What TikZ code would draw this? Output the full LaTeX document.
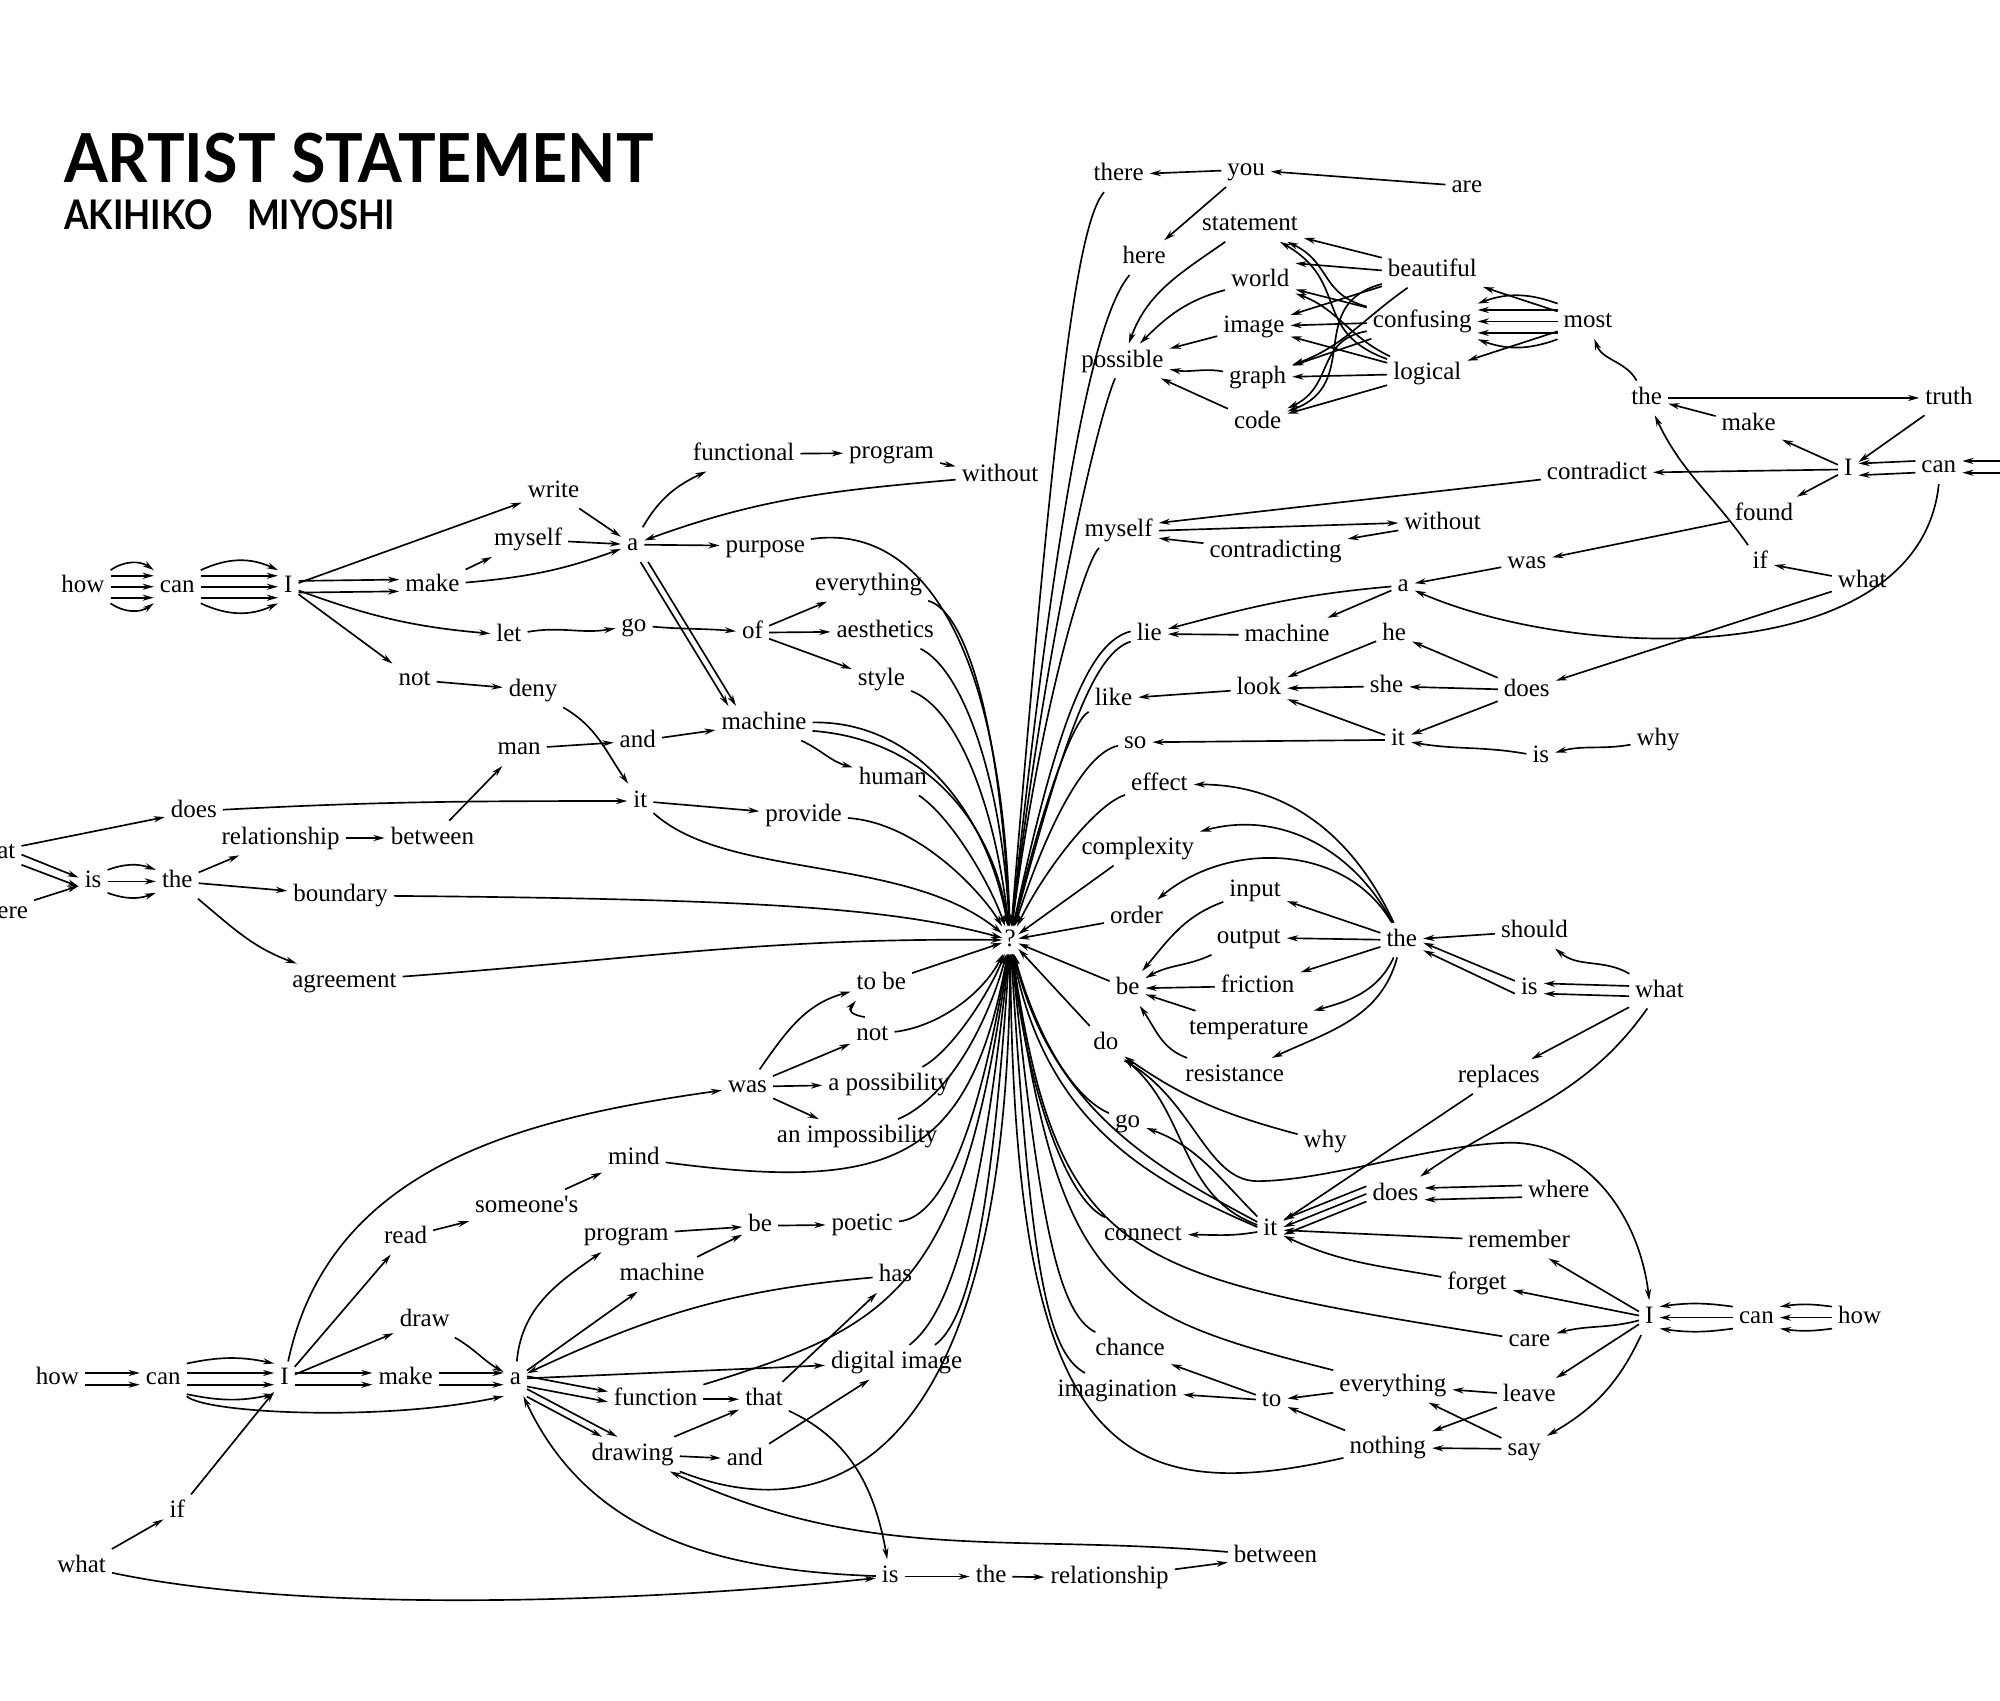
\documentclass[tikz,border=0pt]{standalone}
\usepackage{fontspec}
\setmainfont{Liberation Serif}
\newfontfamily\rawserif{Liberation Serif}[Ligatures=ResetAll]
\newfontfamily\titlefont{Lato}
\usetikzlibrary{arrows.meta}
\begin{document}
\begin{tikzpicture}[x=0.5pt,y=-0.5pt,
 w/.style={font=\fontsize{9.8}{11}\selectfont,inner sep=2.2pt,text height=6.8pt,text depth=2pt},
 e/.style={-{Stealth[length=4.4pt,width=2.4pt]},line width=0.65pt},
 ttl/.style={anchor=base west,inner sep=0pt}]
\useasboundingbox (0,0) rectangle (1568,1333);
\fill[white] (0,0) rectangle (1568,1333);
% title
\node[ttl,font=\titlefont\bfseries\fontsize{26.5}{30}\selectfont] (title) at (50,143) {\scalebox{0.93}[1]{ARTIST STATEMENT}};
\node[ttl,font=\titlefont\bfseries\fontsize{16}{19}\selectfont] (subtitle) at (50,180) {\scalebox{0.865}[1]{AKIHIKO}\hspace{13.5pt}\scalebox{0.85}[1]{MIYOSHI}};
% centre
\node[w,inner sep=0.8pt] (q) at (792,737) {?};
% ---------------- upper left nodes
\node[w] (ul_how) at (65,460) {how};
\node[w] (ul_can) at (139,460) {can};
\node[w] (ul_I) at (226,460) {I};
\node[w] (ul_write) at (434,385) {write};
\node[w] (ul_myself) at (414,423) {myself};
\node[w] (ul_make) at (339,459) {make};
\node[w] (ul_let) at (399,498) {let};
\node[w] (ul_not) at (325,533) {not};
\node[w] (ul_deny) at (418,541) {deny};
\node[w] (ul_a) at (496,427) {a};
\node[w] (ul_functional) at (583,356) {functional};
\node[w] (ul_program) at (699,355) {program};
\node[w] (ul_without) at (784,373) {without};
\node[w] (ul_purpose) at (600,428) {purpose};
\node[w] (ul_go) at (497,490) {go};
\node[w] (ul_of) at (590,496) {of};
\node[w] (ul_everything) at (681,458) {everything};
\node[w] (ul_aesthetics) at (694,495) {aesthetics};
\node[w] (ul_style) at (691,533) {style};
\node[w] (ul_machine) at (599,567) {machine};
\node[w] (ul_man) at (407,587) {man};
\node[w] (ul_and) at (500,581) {and};
\node[w] (ul_human) at (700,610) {human};
\node[w] (ul_it) at (502,628) {it};
\node[w] (ul_provide) at (630,639) {provide};
\node[w] (ul_does) at (152,636) {does};
\node[w] (ul_relationship) at (220,657) {relationship};
\node[w] (ul_between) at (339,657) {between};
\node[w] (ul_is) at (73,691) {is};
\node[w] (ul_the) at (139,691) {the};
\node[w] (ul_boundary) at (267,702) {boundary};
\node[w] (ul_agreement) at (270,769) {agreement};
\node[w] (ul_what) at (-7,668) {what};
\node[w] (ul_where) at (-2,715) {where};
% ---------------- top right nodes
\node[w] (tr_there) at (877,137) {there};
\node[w] (tr_you) at (977,133) {you};
\node[w] (tr_are) at (1150,146) {are};
\node[w] (tr_here) at (897,202) {here};
\node[w] (tr_statement) at (980,176) {statement};
\node[w] (tr_world) at (988,220) {world};
\node[w] (tr_image) at (983,256) {image};
\node[w] (tr_possible) at (880,283) {possible};
\node[w] (tr_graph) at (986,296) {graph};
\node[w] (tr_code) at (986,331) {code};
\node[w] (tr_beautiful) at (1123,212) {beautiful};
\node[w] (tr_confusing) at (1115,252) {confusing};
\node[w] (tr_logical) at (1119,293) {logical};
\node[w] (tr_most) at (1245,252) {most};
\node[w] (tr_the) at (1291,312) {the};
\node[w] (tr_truth) at (1528,312) {truth};
\node[w] (tr_make) at (1371,333) {make};
\node[w] (tr_contradict) at (1252,371) {contradict};
\node[w] (tr_I) at (1449,368) {I};
\node[w] (tr_can) at (1520,366) {can};
\node[w] (tr_found) at (1383,403) {found};
\node[w] (tr_myself) at (877,416) {myself};
\node[w] (tr_without) at (1131,410) {without};
\node[w] (tr_contradicting) at (1000,432) {contradicting};
\node[w] (tr_was) at (1197,441) {was};
\node[w] (tr_if) at (1380,441) {if};
\node[w] (tr_what) at (1460,456) {what};
\node[w] (tr_a) at (1100,459) {a};
\coordinate (tr_offr) at (1580,366);
% ---------------- middle right nodes
\node[w] (mr_lie) at (901,497) {lie};
\node[w] (mr_machine) at (1009,498) {machine};
\node[w] (mr_he) at (1093,497) {he};
\node[w] (mr_she) at (1087,538) {she};
\node[w] (mr_look) at (987,540) {look};
\node[w] (mr_like) at (873,548) {like};
\node[w] (mr_does) at (1197,541) {does};
\node[w] (mr_it) at (1096,580) {it};
\node[w] (mr_so) at (890,582) {so};
\node[w] (mr_is) at (1208,593) {is};
\node[w] (mr_why) at (1300,580) {why};
\node[w] (mr_effect) at (909,615) {effect};
\node[w] (mr_complexity) at (892,665) {complexity};
\node[w] (mr_order) at (891,719) {order};
\node[w] (mr_input) at (984,698) {input};
\node[w] (mr_output) at (979,735) {output};
\node[w] (mr_the) at (1099,737) {the};
\node[w] (mr_friction) at (986,773) {friction};
\node[w] (mr_be) at (884,775) {be};
\node[w] (mr_temperature) at (979,806) {temperature};
\node[w] (mr_resistance) at (968,843) {resistance};
\node[w] (mr_do) at (867,818) {do};
\node[w] (mr_should) at (1203,730) {should};
\node[w] (mr_is2) at (1199,775) {is};
\node[w] (mr_what) at (1301,777) {what};
\node[w] (mr_replaces) at (1175,844) {replaces};
\node[w] (mr_why2) at (1039,895) {why};
\node[w] (mr_go) at (884,879) {go};
% ---------------- lower right nodes
\node[w] (lr_it) at (996,964) {it};
\node[w] (lr_does) at (1094,936) {does};
\node[w] (lr_where) at (1222,934) {where};
\node[w] (lr_remember) at (1191,973) {remember};
\node[w] (lr_forget) at (1158,1006) {forget};
\node[w] (lr_connect) at (896,968) {connect};
\node[w] (lr_I) at (1293,1033) {I};
\node[w] (lr_can) at (1377,1033) {can};
\node[w] (lr_how) at (1458,1033) {how};
\node[w] (lr_care) at (1199,1051) {care};
\node[w] (lr_everything) at (1092,1086) {everything};
\node[w] (lr_leave) at (1199,1094) {leave};
\node[w] (lr_to) at (997,1098) {to};
\node[w] (lr_chance) at (886,1058) {chance};
\node[w] (lr_imagination) at (876,1090) {imagination};
\node[w] (lr_nothing) at (1088,1135) {nothing};
\node[w] (lr_say) at (1195,1136) {say};
% ---------------- lower left nodes
\node[w] (ll_how) at (45,1081) {how};
\node[w] (ll_can) at (128,1081) {can};
\node[w] (ll_I) at (223,1081) {I};
\node[w] (ll_make) at (318,1081) {make};
\node[w] (ll_a) at (404,1081) {a};
\node[w] (ll_read) at (318,970) {read};
\node[w] (ll_someones) at (413,946) {{\rawserif someone's}};
\node[w] (ll_mind) at (497,908) {mind};
\node[w] (ll_draw) at (333,1035) {draw};
\node[w] (ll_was) at (586,852) {was};
\node[w] (ll_tobe) at (691,771) {to be};
\node[w] (ll_not) at (684,811) {not};
\node[w] (ll_apossibility) at (697,850) {a possibility};
\node[w] (ll_animpossibility) at (672,891) {an impossibility};
\node[w] (ll_program) at (491,968) {program};
\node[w] (ll_be) at (596,961) {be};
\node[w] (ll_poetic) at (676,960) {poetic};
\node[w] (ll_machine) at (519,999) {machine};
\node[w] (ll_has) at (702,1000) {has};
\node[w] (ll_digitalimage) at (703,1068) {digital image};
\node[w] (ll_function) at (514,1097) {function};
\node[w] (ll_that) at (599,1097) {that};
\node[w] (ll_drawing) at (496,1140) {drawing};
\node[w] (ll_and) at (584,1144) {and};
\node[w] (ll_is) at (698,1236) {is};
\node[w] (ll_the) at (777,1236) {the};
\node[w] (ll_relationship) at (870,1237) {relationship};
\node[w] (ll_between) at (1000,1220) {between};
\node[w] (ll_what) at (64,1228) {what};
\node[w] (ll_if) at (139,1185) {if};

% ================= UL edges
\draw[e] ([yshift=4.3pt]ul_how.east) -- ([yshift=4.3pt]ul_can.west);
\draw[e] (ul_how.east) -- (ul_can.west);
\draw[e] ([yshift=-4.3pt]ul_how.east) -- ([yshift=-4.3pt]ul_can.west);
\draw[e] ([yshift=6.5pt]ul_how.east) to[bend left=35] ([yshift=6.5pt]ul_can.west);
\draw[e] ([yshift=-6.5pt]ul_how.east) to[bend right=35] ([yshift=-6.5pt]ul_can.west);
\draw[e] ([yshift=4.3pt]ul_can.east) -- ([yshift=4.3pt]ul_I.west);
\draw[e] (ul_can.east) -- (ul_I.west);
\draw[e] ([yshift=-4.3pt]ul_can.east) -- ([yshift=-4.3pt]ul_I.west);
\draw[e] ([yshift=6.5pt]ul_can.east) to[bend left=25] ([yshift=6.5pt]ul_I.west);
\draw[e] ([yshift=-6.5pt]ul_can.east) to[bend right=25] ([yshift=-6.5pt]ul_I.west);
\draw[e] (ul_I) -- (ul_write);
\draw[e] ([yshift=2.3pt]ul_I.east) -- ([yshift=2.3pt]ul_make.west);
\draw[e] ([yshift=-2.3pt]ul_I.east) -- ([yshift=-2.3pt]ul_make.west);
\draw[e] (ul_I) to[out=-20,in=175] (ul_let);
\draw[e] (ul_I) -- (ul_not);
\draw[e] (ul_make) -- (ul_myself);
\draw[e] (ul_myself) -- (ul_a);
\draw[e] (ul_write) -- (ul_a);
\draw[e] (ul_make) to[out=5,in=200] (ul_a);
\draw[e] (ul_a) to[out=60,in=205] (ul_functional);
\draw[e] (ul_functional) -- (ul_program);
\draw[e] (ul_program) -- (ul_without);
\draw[e] (ul_without) to[out=185,in=20] (ul_a);
\draw[e] (ul_a) -- (ul_purpose);
\draw[e] ([xshift=-1.5pt]ul_a.south east) -- ([xshift=-14pt]ul_machine.north);
\draw[e] ([xshift=1.5pt]ul_a.south east) -- ([xshift=-11pt]ul_machine.north);
\draw[e] (ul_let) to[out=10,in=190] (ul_go);
\draw[e] (ul_go) to[out=-5,in=175] (ul_of);
\draw[e] (ul_of) -- (ul_everything);
\draw[e] (ul_of) -- (ul_aesthetics);
\draw[e] (ul_of) -- (ul_style);
\draw[e] (ul_not) -- (ul_deny);
\draw[e] (ul_deny) to[out=-30,in=125] (ul_it);
\draw[e] (ul_man) -- (ul_and);
\draw[e] (ul_and) -- (ul_machine);
\draw[e] (ul_machine) to[out=-25,in=165] (ul_human);
\draw[e] (ul_it) -- (ul_provide);
\draw[e] (ul_does) to[out=3,in=180] (ul_it);
\draw[e] (ul_between) -- (ul_man);
\draw[e] (ul_relationship) -- (ul_between);
\draw[e] (ul_the) -- (ul_relationship);
\draw[e] (ul_the) -- (ul_boundary);
\draw[e] (ul_the) to[out=-40,in=160] (ul_agreement);
\draw[e] (ul_is.east) -- (ul_the.west);
\draw[e] ([yshift=4.5pt]ul_is.east) to[bend left=20] ([yshift=4.5pt]ul_the.west);
\draw[e] ([yshift=-4.5pt]ul_is.east) to[bend right=20] ([yshift=-4.5pt]ul_the.west);
\draw[e] (ul_what) -- (ul_does);
\draw[e] ([yshift=-1pt]ul_what.east) -- ([yshift=1.5pt]ul_is.west);
\draw[e] ([yshift=-5pt]ul_what.east) -- ([yshift=-2pt]ul_is.west);
\draw[e] (ul_where) -- (ul_is);
\draw[e] (ul_purpose) .. controls (720,410) and (785,500) .. (q);
\draw[e] (ul_everything) .. controls (760,480) and (785,580) .. (q);
\draw[e] (ul_aesthetics) .. controls (755,525) and (785,610) .. (q);
\draw[e] (ul_style) .. controls (750,555) and (780,630) .. (q);
\draw[e] (ul_machine) .. controls (720,565) and (775,640) .. (q);
\draw[e] ([yshift=-3pt]ul_machine.east) .. controls (730,580) and (780,650) .. (q);
\draw[e] (ul_human) .. controls (745,640) and (775,690) .. (q);
\draw[e] (ul_provide) .. controls (720,645) and (770,700) .. (q);
\draw[e] (ul_it) .. controls (570,690) and (710,670) .. (q);
\draw[e] (ul_boundary) .. controls (600,705) and (700,712) .. (q);
\draw[e] (ul_agreement) .. controls (500,752) and (600,735) .. (q);

% ================= TR edges
\draw[e] (tr_are) -- (tr_you);
\draw[e] (tr_you) -- (tr_there);
\draw[e] (tr_you) -- (tr_here);
\draw[e] (tr_there) .. controls (845,175) and (828,300) .. (q);
\draw[e] (tr_here) .. controls (865,240) and (835,330) .. (q);
\draw[e] (tr_possible) .. controls (860,330) and (820,500) .. (q);
\draw[e] (tr_myself) .. controls (850,440) and (815,560) .. (q);
\draw[e] (tr_statement) to[out=215,in=70] (tr_possible);
\draw[e] (tr_world) to[out=195,in=45] (tr_possible);
\draw[e] (tr_image) -- (tr_possible);
\draw[e] (tr_graph) to[out=170,in=-10] (tr_possible);
\draw[e] (tr_code) -- (tr_possible);
\draw[e] (tr_beautiful) -- (tr_statement);
\draw[e] (tr_beautiful.west) -- (tr_world.north east);
\draw[e] (tr_beautiful) -- (tr_image);
\draw[e] (tr_beautiful) to[out=215,in=20] (tr_graph);
\draw[e] (tr_beautiful) to[out=195,in=20,looseness=1.3] (tr_code);
\draw[e] (tr_confusing) to[out=165,in=-25,looseness=1.2] (tr_statement);
\draw[e] (tr_confusing) -- (tr_world);
\draw[e] (tr_confusing) -- (tr_image);
\draw[e] (tr_confusing) -- (tr_graph);
\draw[e] (tr_confusing) to[out=190,in=25,looseness=1.2] (tr_code);
\draw[e] (tr_logical) to[out=160,in=-30,looseness=1.3] (tr_statement);
\draw[e] (tr_logical) to[out=155,in=-20] (tr_world);
\draw[e] (tr_logical) -- (tr_image);
\draw[e] (tr_logical) -- (tr_graph);
\draw[e] (tr_logical) -- (tr_code);
\draw[e] (tr_most) -- (tr_beautiful);
\draw[e] (tr_most) -- (tr_logical);
\draw[e] ([yshift=4.5pt]tr_most.west) -- ([yshift=4.5pt]tr_confusing.east);
\draw[e] (tr_most.west) -- (tr_confusing.east);
\draw[e] ([yshift=-4.5pt]tr_most.west) -- ([yshift=-4.5pt]tr_confusing.east);
\draw[e] ([yshift=7pt]tr_most.west) to[bend right=20] ([yshift=7pt]tr_confusing.east);
\draw[e] ([yshift=-7pt]tr_most.west) to[bend left=20] ([yshift=-7pt]tr_confusing.east);
\draw[e] (tr_the) to[out=120,in=-70] (tr_most);
\draw[e] (tr_the) -- (tr_truth);
\draw[e] (tr_make) -- (tr_the);
\draw[e] (tr_I) -- (tr_make);
\draw[e] (tr_truth) -- (tr_I);
\draw[e] (tr_I) -- (tr_contradict);
\draw[e] (tr_I) -- (tr_found);
\draw[e] ([yshift=2.3pt]tr_can.west) -- ([yshift=2.3pt]tr_I.east);
\draw[e] ([yshift=-2.3pt]tr_can.west) -- ([yshift=-2.3pt]tr_I.east);
\draw[e] ([yshift=2.3pt]tr_offr) -- ([yshift=2.3pt]tr_can.east);
\draw[e] ([yshift=-2.3pt]tr_offr) -- ([yshift=-2.3pt]tr_can.east);
\draw[e] (tr_can.south) .. controls (1505,525) and (1240,520) .. (tr_a);
\draw[e] (tr_found) -- (tr_was);
\draw[e] (tr_was) -- (tr_a);
\draw[e] (tr_if) to[out=125,in=-65] (tr_the);
\draw[e] (tr_what) -- (tr_if);
\draw[e] (tr_what) -- (mr_does);
\draw[e] (tr_contradict) -- ([yshift=3pt]tr_myself.east);
\draw[e] (tr_myself.east) -- (tr_without.west);
\draw[e] (tr_without) -- (tr_contradicting);
\draw[e] (tr_contradicting) -- ([yshift=-3pt]tr_myself.east);

% ================= MR edges
\draw[e] (tr_a) to[out=185,in=15] (mr_lie);
\draw[e] (tr_a) -- (mr_machine);
\draw[e] (mr_machine) -- (mr_lie);
\draw[e] ([yshift=1pt]mr_lie.west) .. controls (855,503) and (830,560) .. (q);
\draw[e] ([yshift=-3pt]mr_lie.west) .. controls (858,512) and (835,575) .. (q);
\draw[e] (mr_does) -- (mr_he);
\draw[e] (mr_does) -- (mr_she);
\draw[e] (mr_does) -- (mr_it);
\draw[e] (mr_he) -- (mr_look);
\draw[e] (mr_she) -- (mr_look);
\draw[e] (mr_it) -- (mr_look);
\draw[e] (mr_look) -- (mr_like);
\draw[e] (mr_like) .. controls (840,565) and (815,640) .. (q);
\draw[e] (mr_it) -- (mr_so);
\draw[e] (mr_so) .. controls (850,590) and (820,650) .. (q);
\draw[e] (mr_is) to[out=170,in=-10] (mr_it);
\draw[e] (mr_why) to[out=190,in=15] (mr_is);
\draw[e] (mr_effect) .. controls (860,630) and (820,680) .. (q);
\draw[e] (mr_complexity) -- (q);
\draw[e] (mr_order) -- (q);
\draw[e] (mr_be) -- (q);
\draw[e] (mr_do) -- (q);
\draw[e] (mr_the) to[out=115,in=0] (mr_effect);
\draw[e] (mr_the) to[out=118,in=15] (mr_complexity);
\draw[e] (mr_the) to[out=120,in=40] (mr_order);
\draw[e] (mr_the) -- (mr_input);
\draw[e] (mr_the) -- (mr_output);
\draw[e] (mr_the) -- (mr_friction);
\draw[e] (mr_the) to[out=-115,in=15] (mr_temperature);
\draw[e] (mr_the) to[out=-105,in=25] (mr_resistance);
\draw[e] (mr_input) to[out=200,in=50] (mr_be);
\draw[e] (mr_output) to[out=205,in=30] (mr_be);
\draw[e] (mr_friction) -- (mr_be);
\draw[e] (mr_temperature) -- (mr_be);
\draw[e] (mr_resistance) to[out=160,in=-55] (mr_be);
\draw[e] (mr_should) -- (mr_the);
\draw[e] ([yshift=3pt]mr_is2.west) -- ([yshift=-1pt]mr_the.east);
\draw[e] ([yshift=-2pt]mr_is2.west) -- ([yshift=-4pt]mr_the.east);
\draw[e] (mr_what) to[out=150,in=-40] (mr_should);
\draw[e] ([yshift=2pt]mr_what.west) -- ([yshift=2pt]mr_is2.east);
\draw[e] ([yshift=-2pt]mr_what.west) -- ([yshift=-2pt]mr_is2.east);
\draw[e] (mr_what) -- (mr_replaces);
\draw[e] (mr_what) to[out=-125,in=35] (lr_does);
\draw[e] (mr_replaces) -- (lr_it);
\draw[e] (mr_why2) to[out=165,in=-35] (mr_do);
\draw[e] (lr_it) to[out=160,in=-40] (mr_do);
\draw[e] (mr_do.south east) .. controls (935,860) and (945,925) .. (985,926) .. controls (1040,926) and (1120,898) .. (1180,896) .. controls (1240,893) and (1285,950) .. (lr_I.north);
\draw[e] (lr_it) to[out=135,in=-20] (mr_go);
\draw[e] (mr_go) .. controls (840,860) and (812,810) .. (q);

% ================= LR edges
\draw[e] ([yshift=3pt]lr_does.west) -- ([yshift=4pt]lr_it.east);
\draw[e] (lr_does.west) -- ([yshift=1pt]lr_it.east);
\draw[e] ([yshift=-3pt]lr_does.west) -- ([yshift=-2pt]lr_it.east);
\draw[e] ([yshift=2.3pt]lr_where.west) -- ([yshift=2.3pt]lr_does.east);
\draw[e] ([yshift=-2.3pt]lr_where.west) -- ([yshift=-2.3pt]lr_does.east);
\draw[e] (lr_remember) -- (lr_it);
\draw[e] (lr_forget) to[out=170,in=-25] (lr_it);
\draw[e] (lr_I) -- (lr_remember);
\draw[e] (lr_I) -- (lr_forget);
\draw[e] (lr_I) to[out=195,in=15] (lr_care);
\draw[e] (lr_I) -- (lr_leave);
\draw[e] (lr_I) to[out=-115,in=30] (lr_say);
\draw[e] (lr_can.west) -- (lr_I.east);
\draw[e] ([yshift=4.3pt]lr_can.west) to[bend right=8] ([yshift=4.3pt]lr_I.east);
\draw[e] ([yshift=-4.3pt]lr_can.west) to[bend left=8] ([yshift=-4.3pt]lr_I.east);
\draw[e] (lr_how.west) -- (lr_can.east);
\draw[e] ([yshift=4.3pt]lr_how.west) to[bend right=8] ([yshift=4.3pt]lr_can.east);
\draw[e] ([yshift=-4.3pt]lr_how.west) to[bend left=8] ([yshift=-4.3pt]lr_can.east);
\draw[e] (lr_it) to[out=190,in=0] (lr_connect);
\draw[e] (lr_connect) .. controls (835,940) and (805,850) .. (q);
\draw[e] ([yshift=1pt]lr_it.west) .. controls (900,925) and (820,880) .. (q);
\draw[e] ([yshift=3pt]lr_it.west) .. controls (905,915) and (825,870) .. (q);
\draw[e] (lr_care) .. controls (880,1000) and (830,990) .. (q);
\draw[e] (lr_everything) .. controls (870,1030) and (830,1010) .. (q);
\draw[e] (lr_chance) .. controls (830,1030) and (815,960) .. (q);
\draw[e] (lr_imagination) .. controls (820,1060) and (808,990) .. (q);
\draw[e] (lr_nothing) .. controls (870,1185) and (795,1130) .. (q);
\draw[e] (lr_everything) -- (lr_to);
\draw[e] (lr_nothing) -- (lr_to);
\draw[e] (lr_to) -- (lr_chance);
\draw[e] (lr_to) -- (lr_imagination);
\draw[e] (lr_leave) -- (lr_everything);
\draw[e] (lr_leave) -- (lr_nothing);
\draw[e] (lr_say) -- (lr_everything);
\draw[e] (lr_say) -- (lr_nothing);

% ================= LL edges
\draw[e] ([yshift=2.3pt]ll_how.east) -- ([yshift=2.3pt]ll_can.west);
\draw[e] ([yshift=-2.3pt]ll_how.east) -- ([yshift=-2.3pt]ll_can.west);
\draw[e] ([yshift=2.3pt]ll_can.east) -- ([yshift=2.3pt]ll_I.west);
\draw[e] ([yshift=-2.3pt]ll_can.east) -- ([yshift=-2.3pt]ll_I.west);
\draw[e] ([yshift=6pt]ll_can.east) to[bend left=12] ([yshift=6pt]ll_I.west);
\draw[e] ([yshift=-6pt]ll_can.east) to[bend right=12] ([yshift=-6pt]ll_I.west);
\draw[e] (ll_can.south east) .. controls (160,1108) and (300,1115) .. (ll_a.south west);
\draw[e] ([yshift=2.3pt]ll_I.east) -- ([yshift=2.3pt]ll_make.west);
\draw[e] ([yshift=-2.3pt]ll_I.east) -- ([yshift=-2.3pt]ll_make.west);
\draw[e] ([yshift=2.3pt]ll_make.east) -- ([yshift=2.3pt]ll_a.west);
\draw[e] ([yshift=-2.3pt]ll_make.east) -- ([yshift=-2.3pt]ll_a.west);
\draw[e] (ll_I) -- (ll_read);
\draw[e] (ll_I) -- (ll_draw);
\draw[e] (ll_I) to[out=78,in=188] (ll_was);
\draw[e] (ll_draw) to[out=-30,in=150] (ll_a);
\draw[e] (ll_what) -- (ll_if);
\draw[e] (ll_if) -- (ll_I);
\draw[e] (ll_what) to[out=-12,in=186,looseness=0.7] (ll_is);
\draw[e] (ll_read) -- (ll_someones);
\draw[e] (ll_someones) -- (ll_mind);
\draw[e] (ll_mind) .. controls (700,935) and (760,910) .. (q);
\draw[e] (ll_a) to[out=85,in=215] (ll_program);
\draw[e] (ll_a) -- (ll_machine);
\draw[e] (ll_has) to[out=185,in=25] (ll_a);
\draw[e] (ll_a) -- (ll_digitalimage);
\draw[e] ([yshift=1pt]ll_a.east) -- ([yshift=3pt]ll_function.west);
\draw[e] ([yshift=-3pt]ll_a.east) -- ([yshift=-1pt]ll_function.west);
\draw[e] ([yshift=-4pt]ll_a.east) -- ([xshift=-6pt]ll_drawing.north);
\draw[e] ([yshift=-7pt]ll_a.east) -- ([xshift=-12pt]ll_drawing.north);
\draw[e] (ll_is) to[out=178,in=-65] (ll_a);
\draw[e] (ll_program) -- (ll_be);
\draw[e] (ll_machine) -- (ll_be);
\draw[e] (ll_be) -- (ll_poetic);
\draw[e] (ll_poetic) .. controls (735,955) and (765,900) .. (q);
\draw[e] (ll_function) -- (ll_that);
\draw[e] (ll_function) .. controls (700,1040) and (755,1010) .. (q);
\draw[e] (ll_that) -- (ll_has);
\draw[e] (ll_that) to[out=-25,in=100] (ll_is);
\draw[e] (ll_drawing) -- (ll_that);
\draw[e] (ll_drawing) -- (ll_and);
\draw[e] (ll_and) -- (ll_digitalimage);
\draw[e] (ll_drawing.south east) .. controls (650,1200) and (790,1150) .. (q);
\draw[e] ([xshift=5pt]ll_digitalimage.north) .. controls (745,1030) and (770,950) .. (q);
\draw[e] ([xshift=15pt]ll_digitalimage.north) .. controls (760,1035) and (778,950) .. (q);
\draw[e] (ll_between) to[out=175,in=-25] (ll_drawing);
\draw[e] (ll_is) -- (ll_the);
\draw[e] (ll_the) -- (ll_relationship);
\draw[e] (ll_relationship) -- (ll_between);
\draw[e] (ll_was) to[out=55,in=195] (ll_tobe);
\draw[e] (ll_was) -- (ll_not);
\draw[e] (ll_was) -- (ll_apossibility);
\draw[e] (ll_was) -- (ll_animpossibility);
\draw[e] ([xshift=-3pt]ll_not.north) to[out=170,in=-130,looseness=1.8] ([xshift=-10pt]ll_tobe.south);
\draw[e] (ll_tobe) -- (q);
\draw[e] (ll_not) .. controls (735,805) and (770,780) .. (q);
\draw[e] (ll_apossibility) .. controls (745,825) and (775,780) .. (q);
\draw[e] (ll_animpossibility) .. controls (745,860) and (775,800) .. (q);
\end{tikzpicture}
\end{document}
